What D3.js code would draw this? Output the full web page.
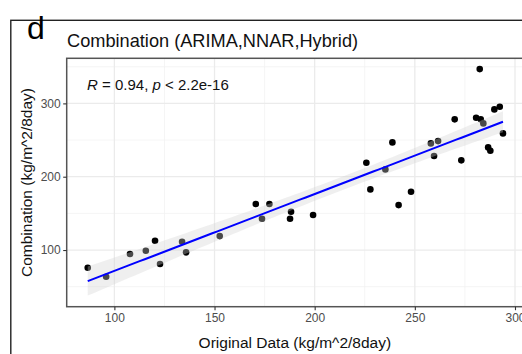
<!DOCTYPE html>
<html><head><meta charset="utf-8">
<script src="https://cdn.jsdelivr.net/npm/d3@7"></script>
<style>body{margin:0;background:#fff;overflow:hidden}</style></head><body>
<script>
// ---- data ----
const originalData = [86.7, 95.9, 107.8, 115.7, 120.3, 122.8, 133.8, 135.8, 152.6, 170.6, 173.7, 177.4, 188.2, 187.7, 199.2, 225.8, 227.8, 235.3, 238.8, 241.9, 248.1, 258.0, 259.6, 261.6, 269.9, 273.2, 282.4, 280.6, 282.9, 284.2, 286.6, 287.7, 289.7, 292.4, 294.0];
const combination  = [75.9, 63.6, 94.5, 99.0, 112.7, 80.9, 111.3, 96.8, 119.0, 162.7, 142.7, 162.7, 152.2, 142.7, 147.7, 219.0, 182.7, 210.0, 246.8, 161.3, 179.5, 245.4, 228.2, 248.6, 278.2, 222.3, 346.8, 280.4, 278.2, 272.7, 240.0, 235.4, 291.8, 295.4, 259.1];
const xTicks = [100, 150, 200, 250, 300];
const xMinor = [125, 175, 225, 275];
const yTicks = [100, 200, 300];
const yMinor = [50, 150, 250, 350];
const xDomain = [76.2, 304];
const yDomain = [22.7, 361.5];
const panelLetter = "d";
const titleText = "Combination (ARIMA,NNAR,Hybrid)";
const xTitle = "Original Data (kg/m^2/8day)";
const yTitle = "Combination (kg/m^2/8day)";
const corR = "0.94", corP = "2.2e-16";

const W = 522, H = 354;
const P = {l: 66.7, t: 58.3, r: 523, b: 306.7};
const FONT = "'Liberation Sans', Arial, Helvetica, sans-serif";

const svg = d3.select("body").append("svg").attr("width", W).attr("height", H)
  .style("font-family", FONT);

// outer frame
svg.append("rect").attr("x", 10.8).attr("y", 20.3).attr("width", 600).attr("height", 400)
  .attr("fill", "none").attr("stroke", "#222").attr("stroke-width", 1.4);

svg.append("text").attr("x", 27).attr("y", 39).attr("font-size", 32).attr("fill", "#000").text(panelLetter);
svg.append("text").attr("x", 67).attr("y", 47).attr("font-size", 18.2).attr("fill", "#111").text(titleText);

const x = d3.scaleLinear().domain(xDomain).range([P.l, P.r]);
const y = d3.scaleLinear().domain(yDomain).range([P.b, P.t]);

const g = svg.append("g");
// grid
g.selectAll(".xmin").data(xMinor).join("line").attr("x1", d => x(d)).attr("x2", d => x(d))
  .attr("y1", P.t).attr("y2", P.b).attr("stroke", "#f2f2f2").attr("stroke-width", 0.8);
g.selectAll(".ymin").data(yMinor).join("line").attr("y1", d => y(d)).attr("y2", d => y(d))
  .attr("x1", P.l).attr("x2", P.r).attr("stroke", "#f2f2f2").attr("stroke-width", 0.8);
g.selectAll(".xmaj").data(xTicks).join("line").attr("x1", d => x(d)).attr("x2", d => x(d))
  .attr("y1", P.t).attr("y2", P.b).attr("stroke", "#ebebeb").attr("stroke-width", 1.3);
g.selectAll(".ymaj").data(yTicks).join("line").attr("y1", d => y(d)).attr("y2", d => y(d))
  .attr("x1", P.l).attr("x2", P.r).attr("stroke", "#ebebeb").attr("stroke-width", 1.3);

// points
const pts = originalData.map((v, i) => ({x: v, y: combination[i]}));
g.selectAll("circle").data(pts).join("circle")
  .attr("cx", d => x(d.x)).attr("cy", d => y(d.y)).attr("r", 3.3).attr("fill", "#000");

// linear regression + 95% CI
const n = pts.length;
const mx = d3.mean(pts, d => d.x), my = d3.mean(pts, d => d.y);
const sxx = d3.sum(pts, d => (d.x - mx) ** 2);
const sxy = d3.sum(pts, d => (d.x - mx) * (d.y - my));
const b1 = sxy / sxx, b0 = my - b1 * mx;
const sse = d3.sum(pts, d => (d.y - b0 - b1 * d.x) ** 2);
const s = Math.sqrt(sse / (n - 2));
const tq = 2.0345;
const xs = d3.range(0, 81).map(i => d3.min(originalData) + (d3.max(originalData) - d3.min(originalData)) * i / 80);
const band = xs.map(v => {
  const f = b0 + b1 * v;
  const se = s * Math.sqrt(1 / n + (v - mx) ** 2 / sxx);
  return {x: v, f, lo: f - tq * se, hi: f + tq * se};
});
g.append("path").datum(band)
  .attr("d", d3.area().x(d => x(d.x)).y0(d => y(d.lo)).y1(d => y(d.hi)))
  .attr("fill", "#d0d0d0").attr("fill-opacity", 0.35);
g.append("path").datum(band)
  .attr("d", d3.line().x(d => x(d.x)).y(d => y(d.f)))
  .attr("fill", "none").attr("stroke", "#0000ff").attr("stroke-width", 2);

// panel border
svg.append("rect").attr("x", P.l).attr("y", P.t).attr("width", P.r - P.l).attr("height", P.b - P.t)
  .attr("fill", "none").attr("stroke", "#555").attr("stroke-width", 1.5);

// axes
const xa = svg.append("g").attr("transform", `translate(0,${P.b})`)
  .call(d3.axisBottom(x).tickValues(xTicks).tickSize(3.5).tickPadding(3).tickFormat(d3.format("d")));
const ya = svg.append("g").attr("transform", `translate(${P.l},0)`)
  .call(d3.axisLeft(y).tickValues(yTicks).tickSize(3.5).tickPadding(2.5).tickFormat(d3.format("d")));
[xa, ya].forEach(a => {
  a.select(".domain").remove();
  a.selectAll(".tick line").attr("stroke", "#333").attr("stroke-width", 1.1);
  a.selectAll(".tick text").attr("fill", "#4d4d4d").attr("font-size", 12).attr("font-family", FONT);
});

// axis titles
svg.append("text").attr("x", (P.l + P.r) / 2).attr("y", 348).attr("text-anchor", "middle")
  .attr("font-size", 15.5).attr("fill", "#111").text(xTitle);
svg.append("text").attr("transform", `translate(32,${(P.t + P.b) / 2}) rotate(-90)`)
  .attr("text-anchor", "middle").attr("font-size", 15.5).attr("fill", "#111").text(yTitle);

// correlation label
const lab = svg.append("text").attr("x", 87).attr("y", 90).attr("font-size", 15).attr("fill", "#111");
lab.append("tspan").attr("font-style", "italic").text("R");
lab.append("tspan").text(` = ${corR}, `);
lab.append("tspan").attr("font-style", "italic").text("p");
lab.append("tspan").text(` < ${corP}`);
</script>
</body></html>
